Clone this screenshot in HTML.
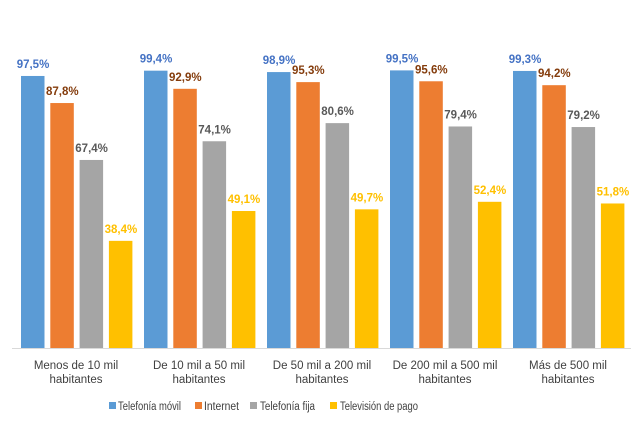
<!DOCTYPE html>
<html><head><meta charset="utf-8"><style>body{margin:0;background:#fff}</style></head><body>
<svg width="643" height="425" xmlns="http://www.w3.org/2000/svg" font-family="Liberation Sans, DejaVu Sans, sans-serif">
<rect width="643" height="425" fill="#fff"/>
<g id="bars"></g>
<line x1="12" y1="348.5" x2="631" y2="348.5" stroke="#d9d9d9" stroke-width="1"/>
<g font-size="11.5" fill="#404040" text-anchor="middle">
<text x="76" y="369">Menos de 10 mil</text><text x="76" y="383">habitantes</text>
<text x="199" y="369">De 10 mil a 50 mil</text><text x="199" y="383">habitantes</text>
<text x="322" y="369">De 50 mil a 200 mil</text><text x="322" y="383">habitantes</text>
<text x="445" y="369">De 200 mil a 500 mil</text><text x="445" y="383">habitantes</text>
<text x="568" y="369">Más de 500 mil</text><text x="568" y="383">habitantes</text>
</g>
<g font-size="11.5" fill="#404040">
<rect x="109" y="402" width="7" height="7" fill="#5b9bd5"/><text x="118" y="410" textLength="63" lengthAdjust="spacingAndGlyphs">Telefonía móvil</text>
<rect x="195" y="402" width="7" height="7" fill="#ed7d31"/><text x="204" y="410" textLength="35" lengthAdjust="spacingAndGlyphs">Internet</text>
<rect x="250" y="402" width="7" height="7" fill="#a5a5a5"/><text x="260" y="410" textLength="55" lengthAdjust="spacingAndGlyphs">Telefonía fija</text>
<rect x="330" y="402" width="7" height="7" fill="#ffc000"/><text x="340" y="410" textLength="78" lengthAdjust="spacingAndGlyphs">Televisión de pago</text>
</g>
<g id="labels" font-size="11.5" font-weight="bold" text-anchor="middle"></g>
<script>
var d=[[97.5,87.8,67.4,38.4],[99.4,92.9,74.1,49.1],[98.9,95.3,80.6,49.7],[99.5,95.6,79.4,52.4],[99.3,94.2,79.2,51.8]];
var fc=["#5b9bd5","#ed7d31","#a5a5a5","#ffc000"],lc=["#4472c4","#843c0c","#595959","#ffc000"];
var b=document.getElementById("bars"),l=document.getElementById("labels"),ns="http://www.w3.org/2000/svg";
d.forEach(function(g,i){g.forEach(function(v,j){var x=21+i*123+j*29.3,h=v*2.79,y=348-h;
var r=document.createElementNS(ns,"rect");r.setAttribute("x",x);r.setAttribute("y",y);r.setAttribute("width",23.5);r.setAttribute("height",h);r.setAttribute("fill",fc[j]);b.appendChild(r);
var t=document.createElementNS(ns,"text");t.setAttribute("x",x+12);t.setAttribute("y",y-8);t.setAttribute("fill",lc[j]);t.textContent=v.toFixed(1).replace(".",",")+"%";l.appendChild(t);});});
</script>
</svg>
</body></html>
